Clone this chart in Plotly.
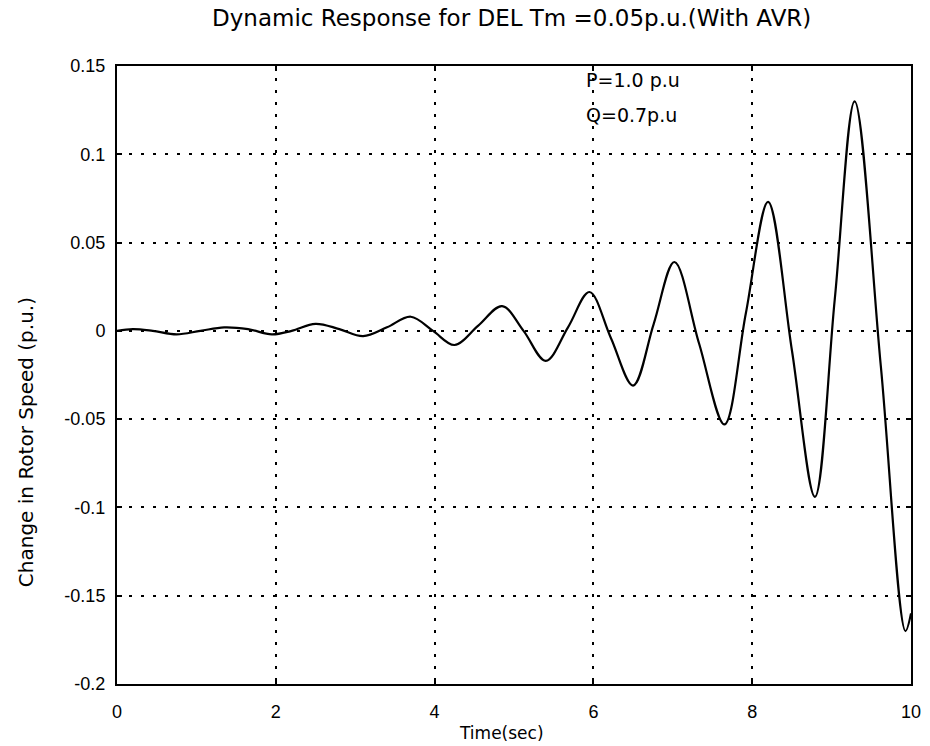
import plotly.graph_objects as go

# Rotor speed deviation after a 0.05 p.u. step in mechanical torque (with AVR)
time_s = [0.0, 0.2, 0.45, 0.75, 1.05, 1.35, 1.65, 1.95, 2.2, 2.5, 2.8, 3.1, 3.4, 3.7,
          3.98, 4.25, 4.55, 4.85, 5.12, 5.4, 5.68, 5.95, 6.22, 6.5, 6.76, 7.02, 7.33,
          7.65, 7.92, 8.2, 8.5, 8.79, 9.04, 9.29, 9.62, 9.93, 10.0]
speed_dev = [0.000, 0.001, 0.000, -0.002, 0.000, 0.002, 0.001, -0.002, 0.000, 0.004,
             0.001, -0.003, 0.002, 0.008, 0.000, -0.008, 0.003, 0.014, 0.000, -0.017,
             0.002, 0.022, -0.004, -0.031, 0.004, 0.039, -0.007, -0.053, 0.010, 0.073,
             -0.011, -0.094, 0.018, 0.130, -0.020, -0.170, -0.160]

x_ticks = [0, 2, 4, 6, 8, 10]
x_tick_text = ["0", "2", "4", "6", "8", "10"]
y_ticks = [0.15, 0.1, 0.05, 0, -0.05, -0.1, -0.15, -0.2]
y_tick_text = ["0.15", "0.1", "0.05", "0", "-0.05", "-0.1", "-0.15", "-0.2"]

title_text = "Dynamic Response for DEL Tm =0.05p.u.(With AVR)"
x_label = "Time(sec)"
y_label = "Change in Rotor Speed (p.u.)"
notes = ["P=1.0 p.u", "Q=0.7p.u"]

W, H = 930, 746
ML, MR, MT, MB = 117, 9, 66, 62
PW, PH = W - ML - MR, H - MT - MB


def px_x(px):
    """Horizontal pixel position -> paper coordinate."""
    return (px - ML) / PW


def px_y(py):
    """Vertical pixel position (from top) -> paper coordinate."""
    return (H - MB - py) / PH


TICK_FONT = dict(family="Liberation Sans", size=18, color="black")
TEXT_FONT = "DejaVu Sans"

fig = go.Figure()
fig.add_trace(go.Scatter(
    x=time_s, y=speed_dev, mode="lines",
    line=dict(color="black", width=2.2, shape="spline", smoothing=1.0),
    showlegend=False, hoverinfo="skip",
))

axis_common = dict(
    showline=True, linecolor="black", linewidth=2, mirror="ticks",
    ticks="inside", ticklen=5, tickcolor="black", tickwidth=2,
    showgrid=True, gridcolor="black", gridwidth=2, griddash="3px,9px",
    zeroline=False, tickfont=TICK_FONT,
)

fig.update_xaxes(range=[0, 10], tickvals=x_ticks, ticktext=x_tick_text,
                 ticklabelstandoff=10, **axis_common)
fig.update_yaxes(range=[-0.2, 0.15], tickvals=y_ticks, ticktext=y_tick_text,
                 ticklabelstandoff=6, **axis_common)

# operating point notes inside the axes
fig.add_annotation(x=5.88, y=0.142, xref="x", yref="y", text=notes[0], showarrow=False,
                   xanchor="left", yanchor="middle",
                   font=dict(family=TEXT_FONT, size=19, color="black"))
fig.add_annotation(x=5.88, y=0.122, xref="x", yref="y", text=notes[1], showarrow=False,
                   xanchor="left", yanchor="middle",
                   font=dict(family=TEXT_FONT, size=19, color="black"))

# title and axis labels
fig.add_annotation(x=px_x(516), y=px_y(18), xref="paper", yref="paper", text=title_text,
                   showarrow=False, xanchor="center", yanchor="middle",
                   font=dict(family=TEXT_FONT, size=23, color="black"))
fig.add_annotation(x=px_x(506), y=px_y(733), xref="paper", yref="paper", text=x_label,
                   showarrow=False, xanchor="center", yanchor="middle",
                   font=dict(family=TEXT_FONT, size=17, color="black"))
fig.add_annotation(x=px_x(25), y=px_y(442), xref="paper", yref="paper", text=y_label,
                   showarrow=False, textangle=-90, xanchor="center", yanchor="middle",
                   font=dict(family=TEXT_FONT, size=20, color="black"))

fig.update_layout(
    width=W, height=H,
    margin=dict(l=ML, r=MR, t=MT, b=MB),
    paper_bgcolor="white", plot_bgcolor="white",
)

fig.write_html("out.html")
